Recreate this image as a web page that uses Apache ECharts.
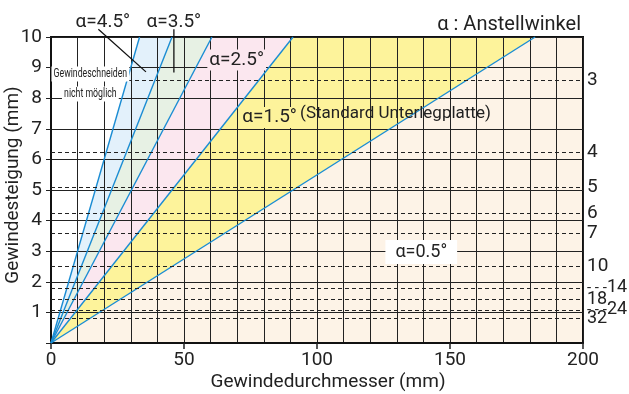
<!DOCTYPE html>
<html><head><meta charset="utf-8">
<script src="https://cdn.jsdelivr.net/npm/echarts@6/dist/echarts.min.js"></script>
<style>html,body{margin:0;padding:0;background:#fff}#c{width:629px;height:394px}</style>
</head><body><div id="c"></div>
<script>
// ---- data ----
const angleNames = ['α=4.5°', 'α=3.5°', 'α=2.5°', 'α=1.5°', 'α=0.5°'];
const diameterAtPitch10 = [33.3, 45.5, 60.5, 91, 182]; // Gewindedurchmesser where each line reaches pitch 10 mm
const threadCounts = ['3', '4', '5', '6', '7', '10', '14', '18', '24', '32'];
const threadPitches = [8.6, 6.25, 5.08, 4.23, 3.6, 2.5, 1.8, 1.43, 1.08, 0.8];
const xTickValues = [0, 50, 100, 150, 200];
const yTickValues = [1, 2, 3, 4, 5, 6, 7, 8, 9, 10];
const annotationTexts = ['α=4.5°', 'α=3.5°', 'α=2.5°', 'α=1.5°', '(Standard Unterlegplatte)', 'Gewindeschneiden', 'nicht möglich', 'α=0.5°'];
const annotationX = [19.5, 46.2, 69.8, 82.2, 129.5, 14.8, 14.8, 139.2];
const annotationY = [10.49, 10.49, 9.25, 7.37, 7.5, 8.79, 8.14, 2.97];
const leader45 = [[17.8, 10.25], [35.7, 8.86]];
const leader35 = [[46.2, 10.25], [46.2, 8.84]];

// ---- styles ----
const X_MIN = xTickValues[0], X_MAX = xTickValues[xTickValues.length - 1];
const Y_MIN = 0, Y_MAX = yTickValues[yTickValues.length - 1];
const FONT = 'Roboto';
const INK = '#222';
const bandColors = ['#e3f1fb', '#e7f1e4', '#fbe7ef', '#fdf39b', '#fdf3e7'];
const lineColor = '#1a8cd3';

// band polygons (between consecutive angle lines)
const bands = [];
for (let i = 0; i < diameterAtPitch10.length; i++) {
  const pts = [[0, 0], [diameterAtPitch10[i], Y_MAX]];
  if (i + 1 < diameterAtPitch10.length) pts.push([diameterAtPitch10[i + 1], Y_MAX]);
  else { pts.push([X_MAX, Y_MAX]); pts.push([X_MAX, Y_MIN]); }
  bands.push(pts);
}

const series = [];
series.push({
  type: 'custom', z: 1, silent: true,
  data: bands.map((b, i) => [i]),
  encode: { x: -1, y: -1 },
  renderItem: function (params, api) {
    const pts = bands[params.dataIndex].map(p => api.coord(p));
    return { type: 'polygon', shape: { points: pts }, style: { fill: bandColors[params.dataIndex], stroke: null } };
  }
});

angleNames.forEach((n, i) => {
  series.push({
    type: 'line', name: n, z: 3, symbol: 'none', silent: true,
    data: [[0, 0], [diameterAtPitch10[i], Y_MAX]],
    lineStyle: { color: lineColor, width: 1.4 }
  });
});

// dashed thread pitch lines
series.push({
  type: 'line', z: 4, data: [], silent: true,
  markLine: {
    silent: true, symbol: 'none', animation: false,
    lineStyle: { color: INK, width: 1, type: [4, 3] },
    data: threadCounts.map((t, i) => ({
      yAxis: threadPitches[i],
      label: {
        show: true, position: 'end', distance: 4,
        formatter: (t === '14' || t === '24') ? '{d|- - -}{n|' + t + '}' : '{n|' + t + '}',
        rich: {
          d: { fontFamily: FONT, fontSize: 15, color: INK },
          n: { fontFamily: FONT, fontSize: (t.length > 1 && t !== '10') ? 18 : 19, color: INK }
        }
      }
    }))
  }
});

// leader lines
[leader45, leader35].forEach(l => {
  series.push({
    type: 'line', z: 5, symbol: 'none', silent: true, clip: false,
    data: l, lineStyle: { color: '#111', width: 1.3 }
  });
});

// annotations (text elements placed through the axes)
const annStyles = [
  { size: 19 },
  { size: 19 },
  { size: 19, bg: bandColors[2], pad: [1, 2] },
  { size: 19, bg: bandColors[3], pad: [1, 2] },
  { size: 17 },
  { size: 12.5, sx: 0.7, bg: '#fff', pad: [1, 3] },
  { size: 12.5, sx: 0.7, bg: '#fff', pad: [1, 3] },
  { size: 18, bg: '#fff', pad: [3, 10] }
];
series.push({
  type: 'custom', z: 6, silent: true, clip: false,
  data: annotationTexts.map((t, i) => [annotationX[i], annotationY[i]]),
  renderItem: function (params, api) {
    const i = params.dataIndex;
    const p = api.coord([api.value(0), api.value(1)]);
    const s = annStyles[i];
    return {
      type: 'text', x: p[0], y: p[1], scaleX: s.sx || 1,
      style: {
        text: annotationTexts[i], fill: INK,
        font: s.size + 'px ' + FONT,
        align: 'center', verticalAlign: 'middle',
        backgroundColor: s.bg || null, padding: s.pad || 0
      }
    };
  }
});

const chart = echarts.init(document.getElementById('c'), null, { renderer: 'canvas' });
chart.setOption({
  animation: false,
  backgroundColor: '#fff',
  textStyle: { fontFamily: FONT },
  title: {
    text: 'α : Anstellwinkel', right: 43, top: 10,
    textStyle: { fontFamily: FONT, fontSize: 20, fontWeight: 'normal', color: INK }
  },
  grid: { left: 51, right: 46, top: 37, bottom: 51, show: true, borderColor: '#111', borderWidth: 2, backgroundColor: 'transparent', z: 2, containLabel: false, outerBoundsMode: 'none' },
  xAxis: {
    type: 'value', min: X_MIN, max: X_MAX, interval: 50, z: 2,
    name: 'Gewindedurchmesser (mm)', nameLocation: 'middle', nameGap: 30, nameMoveOverlap: false,
    nameTextStyle: { fontFamily: FONT, fontSize: 19, color: INK, padding: [0, 0, 0, 22] },
    axisLine: { show: true, lineStyle: { color: '#111', width: 2 } },
    axisTick: { show: true, length: 6, lineStyle: { color: INK, width: 1.5 } },
    axisLabel: { fontFamily: FONT, fontSize: 19, color: INK, margin: 8 },
    splitLine: { show: true, lineStyle: { color: INK, width: 1 } },
    minorTick: { show: false, splitNumber: 5 },
    minorSplitLine: { show: true, lineStyle: { color: INK, width: 1 } }
  },
  yAxis: {
    type: 'value', min: Y_MIN, max: Y_MAX, interval: 1, z: 2,
    name: 'Gewindesteigung (mm)', nameLocation: 'middle', nameGap: 28, nameMoveOverlap: false,
    nameTextStyle: { fontFamily: FONT, fontSize: 19, color: INK, padding: [0, 0, 0, 10] },
    axisLine: { show: true, lineStyle: { color: '#111', width: 2 } },
    axisTick: { show: true, length: 5, lineStyle: { color: INK, width: 1 } },
    axisLabel: { fontFamily: FONT, fontSize: 19, color: INK, margin: 9, formatter: v => (v === 0 ? '' : String(v)) },
    splitLine: { show: true, lineStyle: { color: INK, width: 1 } }
  },
  series: series
});
</script></body></html>
